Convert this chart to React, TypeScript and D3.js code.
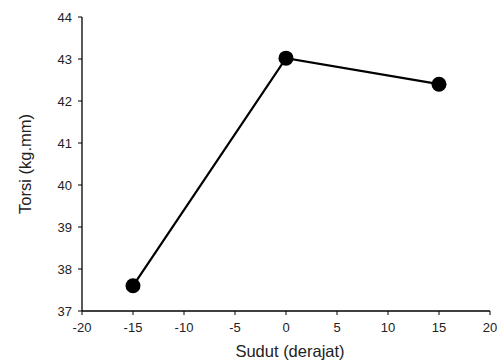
import React from "react";
import * as d3 from "d3";

const sudut = [-15, 0, 15];
const torsi = [37.6, 43.02, 42.4];
const xTicks = [-20, -15, -10, -5, 0, 5, 10, 15, 20];
const yTicks = [37, 38, 39, 40, 41, 42, 43, 44];

export default function App() {
  const W = 497, H = 363;
  const x = d3.scaleLinear().domain([-20, 20]).range([82, 490]);
  const y = d3.scaleLinear().domain([37, 44]).range([311, 17]);
  const line = d3.line<number>().x((_, i) => x(sudut[i])).y((d) => y(d));
  const font = "Liberation Sans, Arial, sans-serif";
  return (
    <svg width={W} height={H} style={{ position: "fixed", left: 0, top: 0 }} fontFamily={font}>
      <rect width={W} height={H} fill="#fff" />
      <line x1={82} x2={82} y1={17} y2={311} stroke="#000" strokeWidth={1.3} />
      <line x1={82} x2={490} y1={311} y2={311} stroke="#000" strokeWidth={1.3} />
      {yTicks.map((t) => (
        <g key={"y" + t}>
          <line x1={78} x2={82} y1={y(t)} y2={y(t)} stroke="#000" />
          <text x={72} y={y(t)} dy="0.35em" textAnchor="end" fontSize={13} fill="#222">{t}</text>
        </g>
      ))}
      {xTicks.map((t) => (
        <g key={"x" + t}>
          <line x1={x(t)} x2={x(t)} y1={311} y2={315} stroke="#000" />
          <text x={x(t)} y={332} textAnchor="middle" fontSize={13} fill="#222">{t}</text>
        </g>
      ))}
      <path d={line(torsi) || ""} fill="none" stroke="#000" strokeWidth={2.2} />
      {torsi.map((v, i) => (
        <circle key={i} cx={x(sudut[i])} cy={y(v)} r={7.5} fill="#000" />
      ))}
      <text x={290} y={357} textAnchor="middle" fontSize={16.5} fill="#222">Sudut (derajat)</text>
      <text transform={`translate(31,164) rotate(-90)`} textAnchor="middle" fontSize={16.5} fill="#222">Torsi (kg.mm)</text>
    </svg>
  );
}
